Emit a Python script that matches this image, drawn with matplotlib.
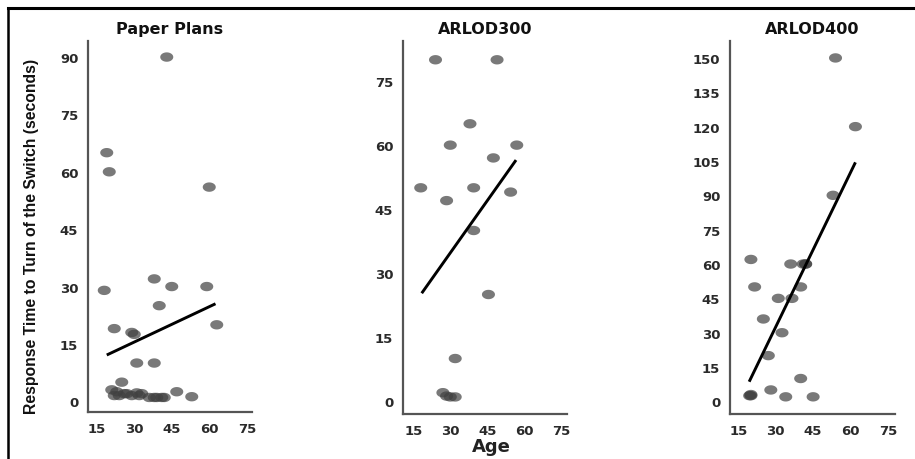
import matplotlib
matplotlib.use("Agg")
import numpy as np
import matplotlib.pyplot as plt
from matplotlib.lines import Line2D
from matplotlib.path import Path

# ---- data ----
panel_titles = ["Paper Plans", "ARLOD300", "ARLOD400"]

pp_age = [43, 19, 20, 60, 18, 38, 45, 59, 40, 63, 22, 29, 30, 31, 38, 25, 47, 53,
          21, 22, 23, 24, 26, 27, 29, 31, 32, 33, 36, 38, 39, 41, 42]
pp_time = [90, 65, 60, 56, 29, 32, 30, 30, 25, 20, 19, 18, 17.5, 10, 10, 5, 2.5, 1.2,
           3, 1.5, 2.5, 1.5, 2, 2, 1.5, 2.2, 1.5, 2, 1, 1, 1, 1, 1]
pp_fit_age = [19, 62.5]
pp_fit_time = [12.1, 25.5]

a3_age = [24, 49, 38, 30, 57, 47.5, 18, 39.5, 54.5, 28.5, 39.5, 45.5, 32, 27, 28.5, 30, 32]
a3_time = [80, 80, 65, 60, 60, 57, 50, 50, 49, 47, 40, 25, 10, 2, 1.2, 1, 1]
a3_fit_age = [18.4, 56.7]
a3_fit_time = [25.3, 56.5]

a4_age = [54, 62, 53, 20, 36, 41, 42, 42, 21.5, 40, 31, 36.5, 25, 32.5, 27, 40, 28, 34, 45,
          19.5, 20, 20]
a4_time = [150, 120, 90, 62, 60, 60, 60, 60, 50, 50, 45, 45, 36, 30, 20, 10, 5, 2, 2,
           2.5, 3, 2.5]
a4_fit_age = [19.3, 62]
a4_fit_time = [8.6, 104.4]

x_ticks = [15, 30, 45, 60, 75]
y_ticks = [list(range(0, 91, 15)), list(range(0, 76, 15)), list(range(0, 151, 15))]
y_limits = [(-2.8, 94.2), (-3.0, 84.4), (-5.5, 157.4)]
x_limits = [(11.5, 77.1), (10.8, 77.4), (11.6, 77.9)]

y_label = "Response Time to Turn of the Switch (seconds)"
x_label = "Age"

# ---- figure ----
plt.rcParams['font.family'] = ['DejaVu Sans']
W, H = 915, 460
fig = plt.figure(figsize=(W / 100, H / 100), dpi=100)

# slightly wide elliptical dot, as in the (horizontally stretched) reference
theta = np.linspace(0, 2 * np.pi, 60)
ell = Path(np.column_stack([np.cos(theta), 0.72 * np.sin(theta)]), closed=True)

boxes = [(88, 252, 42, 413), (403, 567, 42, 415), (730, 895, 42, 415)]
series = [(pp_age, pp_time, pp_fit_age, pp_fit_time),
          (a3_age, a3_time, a3_fit_age, a3_fit_time),
          (a4_age, a4_time, a4_fit_age, a4_fit_time)]

for i, (l, r, t, b) in enumerate(boxes):
    ax = fig.add_axes([l / W, 1 - b / H, (r - l) / W, (b - t) / H])
    xs, ys, fx, fy = series[i]
    ax.scatter(xs, ys, s=88, marker=ell, color='#404040', alpha=0.7,
               edgecolors='none', zorder=2)
    ax.plot(fx, fy, color='black', lw=2.1, zorder=3, solid_capstyle='butt')
    ax.set_xlim(*x_limits[i])
    ax.set_ylim(*y_limits[i])
    ax.set_xticks(x_ticks)
    ax.set_yticks(y_ticks[i])
    for s in ['top', 'right']:
        ax.spines[s].set_visible(False)
    for s in ['left', 'bottom']:
        ax.spines[s].set_color('#555555')
        ax.spines[s].set_linewidth(1.6)
    ax.tick_params(length=0, pad=7, labelsize=9.5, labelcolor='#2a2a2a')
    for lab in ax.get_xticklabels() + ax.get_yticklabels():
        lab.set_fontweight('bold')
    ax.set_title(panel_titles[i], fontsize=11.5, fontweight='bold', color='#111111', pad=6)
    ax.patch.set_alpha(0)

fig.text(32 / W, 1 - 236 / H, y_label, rotation=90, ha='center', va='center',
         fontsize=11.3, fontweight='bold', color='#111111',
         family=['Liberation Sans', 'DejaVu Sans'])
fig.text(491 / W, 1 - 447 / H, x_label, ha='center', va='center',
         fontsize=13, fontweight='bold', color='#222222')

# frame lines (top and left)
fig.add_artist(Line2D([8 / W, 1], [1 - 8.5 / H, 1 - 8.5 / H], color='black', lw=2.2,
                      transform=fig.transFigure))
fig.add_artist(Line2D([8 / W, 8 / W], [0, 1 - 8.5 / H], color='black', lw=1.8,
                      transform=fig.transFigure))

fig.savefig("out.png", dpi=100)
